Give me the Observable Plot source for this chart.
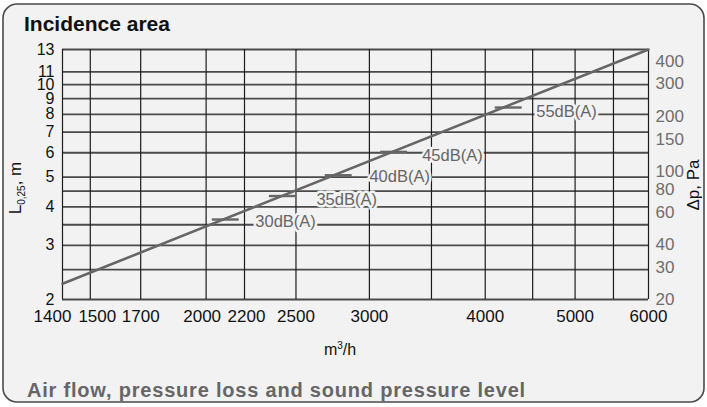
<!DOCTYPE html>
<html>
<head>
<meta charset="utf-8">
<script src="https://cdn.jsdelivr.net/npm/d3@7"></script>
<script src="https://cdn.jsdelivr.net/npm/@observablehq/plot@0.6"></script>
<style>
  html, body { margin: 0; padding: 0; background: #ffffff; }
  #chart { width: 707px; height: 407px; }
</style>
</head>
<body>
<div id="chart"></div>
<script>
// ---- data ----
const flowGrid = [1400, 1500, 1700, 2000, 2200, 2500, 3000, 3500, 4000, 4500, 5000, 5500, 6000];
const flowTicks = [1400, 1500, 1700, 2000, 2200, 2500, 3000, 4000, 5000, 6000];
const lenGrid = [2, 2.5, 3, 3.5, 4, 4.5, 5, 6, 7, 8, 9, 10, 11, 13];
const lenTicks = [2, 3, 4, 5, 6, 7, 8, 9, 10, 11, 13];
const dpTicks = [20, 30, 40, 60, 80, 100, 150, 200, 300, 400];

const lineFlow = [1400, 6000];
const lineLen = [2.25, 13];

const dbLabels = ["30dB(A)", "35dB(A)", "40dB(A)", "45dB(A)", "55dB(A)"];
const dashFlow = [2100, 2420, 2780, 3190, 4240];
const dashLen = [3.64, 4.34, 5.07, 6.04, 8.42];
const labelFlow = [2260, 2630, 3000, 3420, 4540];
const labelLen = [3.59, 4.23, 5.01, 5.89, 8.14];

// right axis (Δp, Pa) expressed on the left (L) log scale
const pToL = p => 1.97 * Math.pow(p / 20, 0.596);

// ---- build ----
const FONT = "'Liberation Sans', Arial, Helvetica, sans-serif";
const BG = "#f2f2f2";

const lineData = lineFlow.map((f, i) => ({flow: f, len: lineLen[i]}));
const dashes = dashFlow.map((f, i) => ({flow: f, len: dashLen[i]}));
const labels = dbLabels.map((t, i) => ({text: t, flow: labelFlow[i], len: labelLen[i]}));

// per-label horizontal nudges for crowded x tick labels (style)
const xShift = {1400: -10, 1500: 7, 2000: -4, 2200: 2};
const shiftGroups = d3.group(flowTicks, d => xShift[d] || 0);
const xTickMarks = Array.from(shiftGroups, ([dx, vals]) =>
  Plot.text(vals, {x: d => d, frameAnchor: "bottom", lineAnchor: "top", dy: 10, dx,
    text: d => String(d), fill: "#111", fontSize: 17}));

const plot = Plot.plot({
  width: 707,
  height: 407,
  marginLeft: 62,
  marginRight: 59,
  marginTop: 49,
  marginBottom: 108,
  style: {fontFamily: FONT, background: "transparent", overflow: "visible"},
  x: {type: "log", domain: [1400, 6000], axis: null},
  y: {type: "log", domain: [2, 13], axis: null},
  marks: [
    Plot.ruleY(lenGrid, {y: d => d, stroke: "#4a4a4a", strokeWidth: 1.8}),
    Plot.ruleX(flowGrid, {x: d => d, stroke: "#1c1c1c", strokeWidth: 1.2}),
    Plot.line(lineData, {x: "flow", y: "len", stroke: "#666", strokeWidth: 2.6}),
    Plot.ruleY(dashes, {y: "len", x1: d => d.flow / 1.034, x2: d => d.flow * 1.034, stroke: "#666", strokeWidth: 2.4}),
    Plot.text(labels, {x: "flow", y: "len", text: "text", textAnchor: "start", lineAnchor: "middle",
      fill: "#666", stroke: BG, strokeWidth: 5, fontSize: 16.5}),
    Plot.text(lenTicks, {y: d => d, frameAnchor: "left", textAnchor: "end", dx: -8,
      text: d => String(d), fill: "#111", fontSize: 16}),
    Plot.text(dpTicks, {y: d => pToL(d), frameAnchor: "right", textAnchor: "start", dx: 7, dy: -2,
      text: d => String(d), fill: "#6e6e6e", fontSize: 17}),
    ...xTickMarks
  ]
});

const svg = d3.select(plot);
// rounded frame behind everything
svg.insert("rect", ":first-child")
  .attr("x", 3).attr("y", 4).attr("width", 701).attr("height", 398)
  .attr("rx", 14).attr("ry", 14)
  .attr("fill", BG).attr("stroke", "#4a4a4a").attr("stroke-width", 1.6);

svg.append("text").attr("x", 24).attr("y", 31).attr("text-anchor", "start")
  .attr("font-family", FONT).attr("font-size", 21).attr("font-weight", "bold").attr("fill", "#111")
  .text("Incidence area");

svg.append("text").attr("x", 27).attr("y", 397).attr("text-anchor", "start")
  .attr("font-family", FONT).attr("font-size", 20).attr("font-weight", "bold").attr("fill", "#666")
  .attr("letter-spacing", 0.8)
  .text("Air flow, pressure loss and sound pressure level");

const mh = svg.append("text").attr("x", 340).attr("y", 355).attr("text-anchor", "middle")
  .attr("font-family", FONT).attr("font-size", 16).attr("fill", "#111");
mh.append("tspan").text("m");
mh.append("tspan").attr("font-size", 10).attr("dy", -6).text("3");
mh.append("tspan").attr("dy", 6).text("/h");

const lt = svg.append("text").attr("transform", "translate(21,188) rotate(-90)").attr("text-anchor", "middle")
  .attr("font-family", FONT).attr("font-size", 17).attr("fill", "#111");
lt.append("tspan").text("L");
lt.append("tspan").attr("font-size", 10).attr("dy", 4).text("0,25");
lt.append("tspan").attr("dy", -4).text(", m");

svg.append("text").attr("transform", "translate(699,185) rotate(-90)").attr("text-anchor", "middle")
  .attr("font-family", FONT).attr("font-size", 17).attr("fill", "#111")
  .text("Δp, Pa");

document.getElementById("chart").appendChild(plot);
</script>
</body>
</html>
